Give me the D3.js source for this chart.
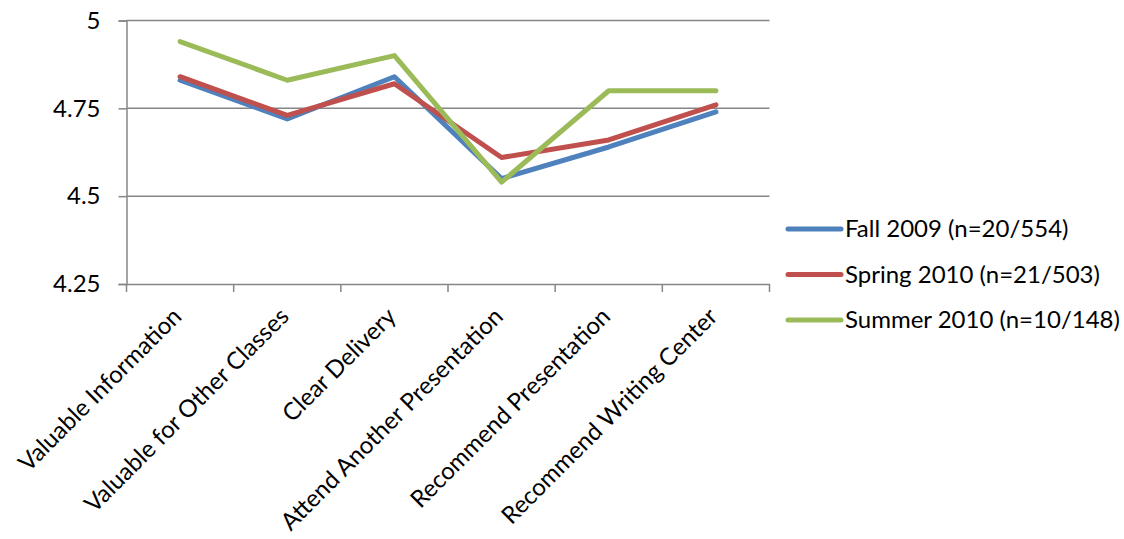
<!DOCTYPE html>
<html><head><meta charset="utf-8">
<script src="https://cdn.jsdelivr.net/npm/d3@7"></script>
<style>body{margin:0;background:#fff}svg{display:block}text{font-family:Lato,"Open Sans",sans-serif;fill:#000}</style>
</head><body><svg id="c" width="1124" height="539"></svg>
<script>
const categories = ["Valuable Information","Valuable for Other Classes","Clear Delivery","Attend Another Presentation","Recommend Presentation","Recommend Writing Center"];
const seriesNames = ["Fall 2009 (n=20/554)","Spring 2010 (n=21/503)","Summer 2010 (n=10/148)"];
const fall2009 = [4.83, 4.72, 4.84, 4.55, 4.64, 4.74];
const spring2010 = [4.84, 4.73, 4.82, 4.61, 4.66, 4.76];
const summer2010 = [4.94, 4.83, 4.90, 4.54, 4.80, 4.80];
const yTicks = [4.25, 4.5, 4.75, 5];
const yTickLabels = ["4.25","4.5","4.75","5"];
const colors = ["#4F81BD","#C0504D","#9BBB59"];

const svg = d3.select("#c");
const L = 126.5, R = 769.5, T = 20.5, B = 284;
const x = d3.scaleBand().domain(categories).range([L, R]);
const y = d3.scaleLinear().domain([4.25, 5]).range([B, T]);
const grid = "#868686";
const FS = 24;

svg.append("g").selectAll("line").data(yTicks.filter(v => v > 4.25)).join("line")
  .attr("x1", L).attr("x2", R).attr("y1", d => y(d)).attr("y2", d => y(d))
  .attr("stroke", grid).attr("stroke-width", 1.5);

const ya = svg.append("g").attr("transform", `translate(${L},0)`)
  .call(d3.axisLeft(y).tickValues(yTicks).tickFormat((d,i) => yTickLabels[i]).tickSize(8).tickPadding(18));
ya.select(".domain").attr("stroke", grid).attr("stroke-width", 1.5);
ya.selectAll(".tick line").attr("stroke", grid).attr("stroke-width", 1.5);
ya.selectAll("text").attr("font-size", FS).attr("font-family", "Lato, sans-serif").attr("fill", "#000");

const xa = svg.append("g").attr("transform", `translate(0,${B})`)
  .call(d3.axisBottom(x).tickSize(0).tickFormat(""));
xa.select(".domain").attr("stroke", grid).attr("stroke-width", 1.5);
const bounds = categories.map(c => x(c)).concat([R]);
svg.append("g").selectAll("line").data(bounds).join("line")
  .attr("x1", d => d).attr("x2", d => d).attr("y1", B).attr("y2", B + 8)
  .attr("stroke", grid).attr("stroke-width", 1.5);

svg.append("g").selectAll("text").data(categories).join("text")
  .attr("transform", d => `translate(${x(d) + x.bandwidth()/2 + 3},${B + 34}) rotate(-45)`)
  .attr("text-anchor", "end").attr("font-size", FS).text(d => d);

const series = [fall2009, spring2010, summer2010];
const line = d3.line().x((d,i) => x(categories[i]) + x.bandwidth()/2).y(d => y(d));
svg.append("g").selectAll("path").data(series).join("path")
  .attr("d", d => line(d)).attr("fill", "none")
  .attr("stroke", (d,i) => colors[i]).attr("stroke-width", 5)
  .attr("stroke-linecap", "round").attr("stroke-linejoin", "round");

const lg = svg.append("g");
seriesNames.forEach((n, i) => {
  const yy = 229 + i * 45.5;
  lg.append("line").attr("x1", 788).attr("x2", 841).attr("y1", yy).attr("y2", yy)
    .attr("stroke", colors[i]).attr("stroke-width", 5).attr("stroke-linecap", "round");
  lg.append("text").attr("x", 845).attr("y", yy + 8).attr("font-size", FS).text(n);
});
</script></body></html>
